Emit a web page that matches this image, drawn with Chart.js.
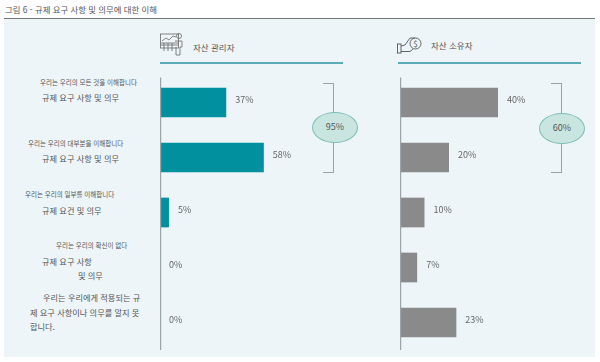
<!DOCTYPE html>
<html lang="ko">
<head>
<meta charset="utf-8">
<title>그림 6</title>
<script src="https://cdn.jsdelivr.net/npm/chart.js@4"></script>
<style>
    html, body { margin: 0; padding: 0; background: #fff; }
    body { position: relative; width: 600px; height: 362px; overflow: hidden; font-family: "Noto Sans CJK KR", "Noto Sans", sans-serif; color: #555; }
    .abs { position: absolute; }
    .txt { position: absolute; white-space: nowrap; line-height: 1; transform: translateY(-50%); }
    #panel { left: 4px; top: 19px; width: 591px; height: 338px; background: #edf5f9; }
    #rule { left: 4px; top: 18px; width: 591px; height: 1px; background: #777; }
    .teal-line { top: 62px; height: 2px; background: #5aabb3; }
    .bracket { top: 83px; width: 11px; height: 90px; box-sizing: border-box; border: 1px solid #9aa3a8; border-left: 0; }
    .oval { width: 46px; height: 31px; box-sizing: border-box; border-radius: 50%; background: #c9e5df; border: 1px solid #7cbfb8; color: #555; font-size: 9px; text-align: center; line-height: 28px; }
    canvas { position: absolute; }
</style>
</head>
<body>
<div class="abs" id="panel"></div>
<div class="abs" id="rule"></div>
<div class="txt" style="left:5px;top:9px;font-size:8.4px">그림 6 - 규제 요구 사항 및 의무에 대한 이해</div>

<svg class="abs" style="left:160px;top:32px" width="24" height="24" viewBox="0 0 24 24" fill="none" stroke="#666" stroke-width="0.8">
    <rect x="0.5" y="2" width="18" height="14"/>
    <path d="M2 9 L6 6 L9 8 L13 4 L16 5"/>
    <path d="M1 11 H18 M1 13 H18 M4 11 V19 M8 11 V19 M12 11 V19"/>
    <circle cx="19" cy="4" r="2.5"/>
    <path d="M15 9 H22 V15 H20 V23 H16 V15"/>
</svg>
<svg class="abs" style="left:397px;top:36px" width="25" height="18" viewBox="0 0 25 18" fill="none" stroke="#555" stroke-width="0.9">
    <rect x="0.5" y="8" width="3.5" height="9"/>
    <path d="M4 10 L8 9 L13 2 H18 M4 15.5 H13 L16 13"/>
    <circle cx="18.5" cy="7.5" r="5.5"/>
    <text x="18.5" y="10.5" font-size="8" text-anchor="middle" fill="#555" stroke="none">$</text>
</svg>

<div class="txt" style="left:193px;top:46.5px;font-size:8.5px">자산 관리자</div>
<div class="txt" style="left:431px;top:44.5px;font-size:8.5px">자산 소유자</div>
<div class="abs teal-line" style="left:160px;width:183px"></div>
<div class="abs teal-line" style="left:398px;width:183px"></div>

<canvas id="managers" style="left:160px;top:74.5px"></canvas>
<canvas id="owners" style="left:400px;top:74.5px"></canvas>

<div class="abs bracket" style="left:323px"></div>
<div class="abs bracket" style="left:551px"></div>
<div class="abs oval" style="left:312px;top:112px">95%</div>
<div class="abs oval" style="left:539px;top:113px">60%</div>

<script>
    const categories = [
        ['우리는 우리의 모든 것을 이해합니다', '규제 요구 사항 및 의무'],
        ['우리는 우리의 대부분을 이해합니다', '규제 요구 사항 및 의무'],
        ['우리는 우리의 일부를 이해합니다', '규제 요건 및 의무'],
        ['우리는 우리의 확신이 없다', '규제 요구 사항', '및 의무'],
        ['우리는 우리에게 적용되는 규', '제 요구 사항이나 의무를 알지 못', '합니다.']
    ];
    const managerValues = [37, 58, 5, 0, 0];
    const ownerValues = [40, 20, 10, 7, 23];

    // label layout, same order as categories: [left, middle y, font size] per line
    const labelLayout = [
        [[40, 81.5, 6.5], [42, 96.5, 8.2]],
        [[28, 142.5, 6.5], [42, 157.5, 8.2]],
        [[25, 193.5, 6.5], [42, 209.5, 8.2]],
        [[56, 244.5, 6.5], [42, 260.5, 8.2], [78, 274.5, 8.2]],
        [[43, 296.5, 8.2], [30, 311.5, 8.2], [30, 325.5, 8.2]]
    ];

    categories.forEach((lines, i) => {
        lines.forEach((line, j) => {
            const [left, top, size] = labelLayout[i][j];
            const el = document.createElement('div');
            el.className = 'txt';
            el.style.cssText = `left:${left}px;top:${top}px;font-size:${size}px`;
            el.textContent = line;
            document.body.appendChild(el);
        });
    });

    // axis line and the % labels next to the bars
    const barExtras = {
        id: 'barExtras',
        afterDraw: (chart) => {
            const { ctx, chartArea } = chart;
            ctx.save();
            ctx.strokeStyle = '#9aa3a8';
            ctx.lineWidth = 1.2;
            ctx.beginPath();
            ctx.moveTo(chartArea.left + 0.6, chartArea.top + 2.5);
            ctx.lineTo(chartArea.left + 0.6, chartArea.bottom);
            ctx.stroke();

            ctx.fillStyle = '#666';
            ctx.font = '9px "Noto Sans CJK KR"';
            ctx.textBaseline = 'middle';
            chart.getDatasetMeta(0).data.forEach((bar, i) => {
                ctx.fillText(`${chart.data.datasets[0].data[i]}%`, bar.x + 9, bar.y - 2.5);
            });
            ctx.restore();
        }
    };

    function drawBars(id, values, color, xMax, width) {
        const canvas = document.getElementById(id);
        canvas.width = width;
        canvas.height = 275;
        return new Chart(canvas, {
            type: 'bar',
            data: {
                labels: categories.map((c) => c.join(' ')),
                datasets: [{
                    data: values,
                    backgroundColor: color,
                    barPercentage: 0.54,
                    categoryPercentage: 1
                }]
            },
            options: {
                indexAxis: 'y',
                responsive: false,
                animation: false,
                devicePixelRatio: 1,
                layout: { padding: 0 },
                plugins: { legend: { display: false }, tooltip: { enabled: false } },
                scales: {
                    x: { display: false, min: 0, max: xMax },
                    y: { display: false }
                }
            },
            plugins: [barExtras]
        });
    }

    drawBars('managers', managerValues, '#00909e', 100, 179);
    drawBars('owners', ownerValues, '#8a8a8a', 60, 147);
</script>
</body>
</html>
